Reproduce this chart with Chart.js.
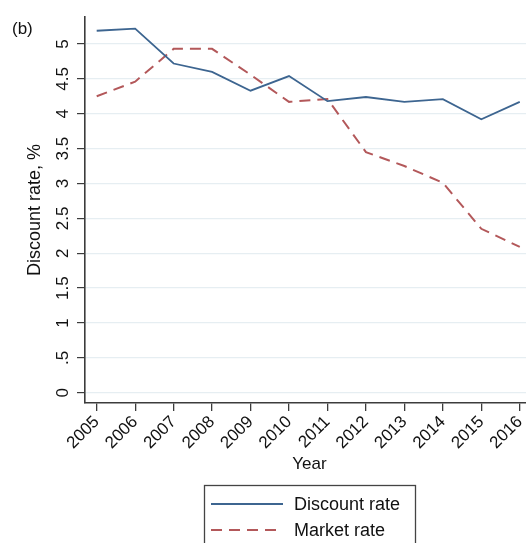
<!DOCTYPE html>
<html>
<head>
<meta charset="utf-8">
<script src="https://cdn.jsdelivr.net/npm/chart.js@4.4.1/dist/chart.umd.min.js"></script>
<style>
  html, body { margin: 0; padding: 0; background: #ffffff; overflow: hidden; }
  #wrap { width: 526px; height: 543px; overflow: hidden; }
  canvas { display: block; }
</style>
</head>
<body>
<div id="wrap"><canvas id="c" width="534" height="543"></canvas></div>
<script>
const years = [2005, 2006, 2007, 2008, 2009, 2010, 2011, 2012, 2013, 2014, 2015, 2016];
const discountRate = [5.19, 5.22, 4.72, 4.60, 4.33, 4.54, 4.18, 4.24, 4.17, 4.21, 3.92, 4.17];
const marketRate = [4.25, 4.46, 4.93, 4.93, 4.56, 4.17, 4.21, 3.45, 3.25, 3.01, 2.35, 2.09];
const yTickValues = [0, 0.5, 1, 1.5, 2, 2.5, 3, 3.5, 4, 4.5, 5];
const seriesNames = ['Discount rate', 'Market rate'];
const panelLabel = '(b)';
const xTitle = 'Year';
const yTitle = 'Discount rate, %';

const FONT = '"Liberation Sans", Arial, Helvetica, sans-serif';
const AXIS = '#3c3c3c';
const GRID = '#e6eef2';
const BLUE = '#3d6590';
const RED = '#b3585a';

function fmtY(v) {
  let s = String(v);
  if (s.startsWith('0.')) s = s.slice(1);
  return s;
}

const customDraw = {
  id: 'customDraw',
  afterDraw(chart) {
    const ctx = chart.ctx;
    const area = chart.chartArea;
    ctx.save();
    // panel label
    ctx.fillStyle = '#111';
    ctx.font = '17px ' + FONT;
    ctx.textAlign = 'left';
    ctx.textBaseline = 'middle';
    ctx.fillText(panelLabel, 12, 29);

    // legend box
    const cx = (area.left + area.right) / 2;
    const boxW = 211;
    const left = cx - boxW / 2;
    const top = 485.5;
    ctx.strokeStyle = '#444';
    ctx.lineWidth = 1.3;
    ctx.strokeRect(Math.round(left) + 0.5, top, boxW, 90);
    const rows = [504, 530];
    chart.data.datasets.forEach((ds, i) => {
      const y = rows[i];
      ctx.beginPath();
      ctx.setLineDash(ds.borderDash || []);
      ctx.strokeStyle = ds.borderColor;
      ctx.lineWidth = ds.borderWidth;
      ctx.moveTo(left + 7, y);
      ctx.lineTo(left + 79, y);
      ctx.stroke();
      ctx.setLineDash([]);
      ctx.fillStyle = '#111';
      ctx.font = '18px ' + FONT;
      ctx.textAlign = 'left';
      ctx.textBaseline = 'middle';
      ctx.fillText(ds.label, left + 90, y + 1);
    });
    ctx.restore();
  }
};

new Chart(document.getElementById('c'), {
  type: 'line',
  data: {
    datasets: [
      {
        label: seriesNames[0],
        data: years.map((yr, i) => ({ x: yr, y: discountRate[i] })),
        borderColor: BLUE,
        borderWidth: 1.8,
        pointRadius: 0,
        tension: 0,
        fill: false
      },
      {
        label: seriesNames[1],
        data: years.map((yr, i) => ({ x: yr, y: marketRate[i] })),
        borderColor: RED,
        borderWidth: 2,
        borderDash: [11, 7],
        pointRadius: 0,
        tension: 0,
        fill: false
      }
    ]
  },
  options: {
    responsive: false,
    animation: false,
    devicePixelRatio: 1,
    layout: { padding: { top: 17, right: 0, bottom: 68, left: 0 } },
    plugins: {
      legend: { display: false },
      tooltip: { enabled: false }
    },
    scales: {
      x: {
        type: 'linear',
        min: 2004.696,
        max: 2016.37,
        afterBuildTicks(scale) {
          scale.ticks = years.map(v => ({ value: v }));
        },
        afterFit(scale) {
          scale.height = 72;
          scale.paddingLeft = 0;
          scale.paddingRight = 0;
        },
        ticks: {
          minRotation: 45,
          maxRotation: 45,
          autoSkip: false,
          padding: 1,
          color: '#111',
          font: { family: FONT, size: 17 },
          callback: (v) => String(v)
        },
        grid: {
          drawOnChartArea: false,
          drawTicks: true,
          tickLength: 8,
          tickColor: AXIS,
          lineWidth: 1.3
        },
        border: { display: true, color: AXIS, width: 1.6 },
        title: {
          display: true,
          text: xTitle,
          color: '#111',
          font: { family: FONT, size: 17 },
          padding: { top: 0, bottom: 0 }
        }
      },
      y: {
        type: 'linear',
        min: -0.148,
        max: 5.387,
        afterBuildTicks(scale) {
          scale.ticks = yTickValues.map(v => ({ value: v }));
        },
        afterFit(scale) {
          scale.width = 85;
          scale.paddingTop = 0;
          scale.paddingBottom = 0;
        },
        ticks: {
          minRotation: 90,
          maxRotation: 90,
          crossAlign: 'center',
          padding: 2,
          color: '#111',
          font: { family: FONT, size: 17 },
          callback: (v) => fmtY(v)
        },
        grid: {
          color: GRID,
          lineWidth: 1.2,
          drawTicks: true,
          tickLength: 8,
          tickColor: AXIS
        },
        border: { display: true, color: AXIS, width: 1.6 },
        title: {
          display: true,
          text: yTitle,
          color: '#111',
          font: { family: FONT, size: 18 },
          padding: { top: 24, bottom: 0 }
        }
      }
    }
  },
  plugins: [customDraw]
});
</script>
</body>
</html>
